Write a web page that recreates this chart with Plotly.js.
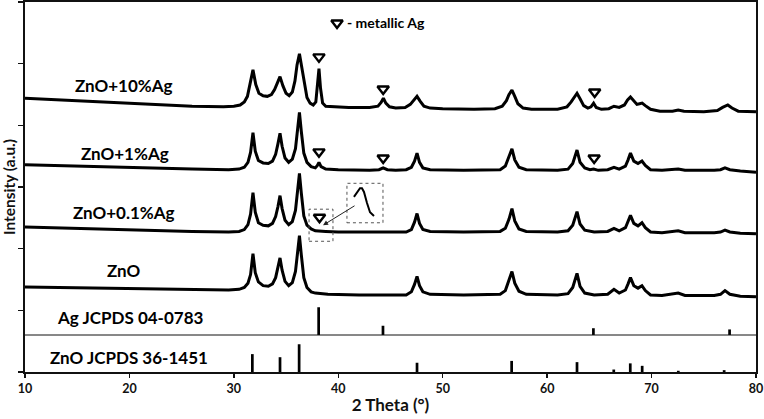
<!DOCTYPE html>
<html>
<head>
<meta charset="utf-8">
<script src="https://cdn.plot.ly/plotly-3.0.1.min.js"></script>
<style>html,body{margin:0;padding:0;background:#fff;}#chart{width:764px;height:419px;}</style>
</head>
<body>
<div id="chart"></div>
<script>
// ---- Sample patterns (2θ in degrees, intensity in stacked a.u.) ----
const theta10Ag = [10,14,18,22,26,29,30,30.6,31.0,31.3,31.55,31.83,32.1,32.4,32.8,33.2,33.6,33.9,34.15,34.42,34.7,35.0,35.3,35.6,35.85,36.05,36.28,36.5,36.75,37.0,37.3,37.6,37.85,38.0,38.15,38.3,38.5,38.8,39.5,41,43,43.8,44.1,44.32,44.55,44.9,45.5,46.4,46.9,47.2,47.54,47.85,48.2,48.8,50,53,55,55.7,56.1,56.35,56.63,56.9,57.2,57.7,58.5,61,61.9,62.3,62.6,62.86,63.15,63.5,63.9,64.2,64.45,64.7,65.2,65.9,66.4,66.9,67.4,67.7,67.98,68.3,68.6,68.85,69.1,69.4,69.9,70.8,72.0,72.55,73.1,75,76.3,76.8,77.3,77.7,78.3,80];
const int10Ag   = [4.44,4.41,4.37,4.34,4.31,4.30,4.31,4.33,4.38,4.47,4.65,4.90,4.66,4.52,4.48,4.47,4.50,4.58,4.68,4.79,4.64,4.52,4.48,4.54,4.72,4.98,5.16,4.95,4.65,4.45,4.36,4.33,4.38,4.62,4.92,4.60,4.36,4.31,4.30,4.29,4.29,4.31,4.37,4.44,4.36,4.30,4.28,4.29,4.34,4.41,4.47,4.39,4.31,4.28,4.27,4.26,4.27,4.31,4.40,4.50,4.57,4.47,4.35,4.28,4.26,4.26,4.30,4.38,4.46,4.52,4.43,4.32,4.28,4.30,4.36,4.29,4.26,4.27,4.31,4.29,4.33,4.41,4.46,4.39,4.34,4.35,4.36,4.32,4.26,4.23,4.23,4.25,4.23,4.22,4.24,4.29,4.33,4.28,4.23,4.22];

const theta1Ag = [10,14,18,22,26,29.5,30.5,31.0,31.35,31.6,31.83,32.05,32.35,32.8,33.3,33.7,34.0,34.22,34.42,34.62,34.9,35.25,35.6,35.9,36.1,36.28,36.46,36.7,37.0,37.4,37.8,38.0,38.15,38.35,38.8,40,43,43.9,44.3,44.7,45.5,46.5,47.0,47.3,47.54,47.78,48.1,48.8,52,55.5,56.0,56.35,56.63,56.9,57.3,58,61,62.0,62.45,62.86,63.15,63.6,64.1,64.45,64.9,65.8,66.4,66.9,67.5,67.75,67.98,68.3,68.7,69.08,69.4,69.9,71,72.55,73.2,76,76.6,77.03,77.5,78.5,80];
const int1Ag   = [3.36,3.34,3.32,3.30,3.29,3.28,3.29,3.32,3.40,3.56,3.88,3.58,3.43,3.39,3.38,3.42,3.53,3.70,3.87,3.66,3.47,3.40,3.45,3.62,3.92,4.21,3.90,3.55,3.40,3.33,3.31,3.35,3.40,3.33,3.29,3.28,3.27,3.28,3.31,3.28,3.27,3.28,3.32,3.42,3.55,3.40,3.31,3.28,3.27,3.28,3.34,3.48,3.62,3.44,3.32,3.28,3.27,3.29,3.38,3.60,3.40,3.31,3.28,3.29,3.27,3.28,3.32,3.29,3.34,3.44,3.55,3.42,3.38,3.42,3.35,3.28,3.27,3.29,3.27,3.27,3.28,3.31,3.28,3.26,3.24];

const theta01Ag = [10,14,18,22,26,29.5,30.5,31.0,31.35,31.6,31.83,32.05,32.35,32.8,33.3,33.7,34.0,34.22,34.42,34.62,34.9,35.25,35.6,35.9,36.1,36.28,36.46,36.7,37.0,37.4,37.8,38.15,38.8,40,44,46.5,47.0,47.3,47.54,47.78,48.1,48.8,52,55.5,56.0,56.35,56.63,56.9,57.3,58,61,62.0,62.45,62.86,63.15,63.6,64.5,65.8,66.4,66.9,67.5,67.75,67.98,68.3,68.7,69.08,69.4,69.9,71,72.55,73.2,76,76.6,77.03,77.5,78.5,80];
const int01Ag   = [2.35,2.33,2.31,2.29,2.28,2.27,2.28,2.31,2.39,2.56,2.91,2.59,2.42,2.38,2.37,2.41,2.52,2.68,2.86,2.65,2.46,2.39,2.44,2.62,2.93,3.22,2.90,2.53,2.38,2.32,2.29,2.29,2.28,2.27,2.27,2.27,2.31,2.43,2.57,2.41,2.31,2.28,2.27,2.28,2.33,2.48,2.65,2.45,2.32,2.28,2.27,2.29,2.38,2.60,2.40,2.30,2.27,2.28,2.33,2.29,2.34,2.44,2.54,2.41,2.37,2.42,2.34,2.27,2.26,2.29,2.26,2.26,2.27,2.30,2.27,2.25,2.24];

const thetaZnO = [10,14,18,22,26,29.5,30.5,31.0,31.35,31.6,31.83,32.05,32.35,32.8,33.3,33.7,34.0,34.22,34.42,34.62,34.9,35.25,35.6,35.9,36.1,36.28,36.46,36.7,37.0,37.4,37.8,39,42,46.5,47.0,47.3,47.54,47.78,48.1,48.8,52,55.5,56.0,56.35,56.63,56.9,57.3,58,61,62.0,62.45,62.86,63.15,63.6,64.5,65.8,66.4,66.9,67.5,67.75,67.98,68.3,68.7,69.08,69.4,69.9,71,72.55,73.2,76,76.6,77.03,77.5,78.5,80];
const intZnO   = [1.38,1.37,1.36,1.35,1.34,1.33,1.34,1.37,1.44,1.58,1.92,1.61,1.46,1.40,1.39,1.43,1.53,1.68,1.85,1.65,1.47,1.40,1.45,1.63,1.93,2.21,1.90,1.53,1.37,1.30,1.28,1.26,1.25,1.25,1.30,1.42,1.55,1.40,1.30,1.26,1.25,1.26,1.32,1.48,1.63,1.44,1.31,1.26,1.25,1.27,1.37,1.60,1.39,1.28,1.25,1.26,1.34,1.28,1.33,1.43,1.53,1.40,1.36,1.40,1.32,1.25,1.24,1.28,1.24,1.24,1.26,1.32,1.26,1.23,1.22];

// ---- Reference cards ----
const agRefTheta  = [38.12, 44.28, 64.43, 77.47];
const agRefHeight = [0.45, 0.15, 0.11, 0.09];
const agRefBase   = 0.6;
const znoRefTheta  = [31.77, 34.42, 36.25, 47.54, 56.60, 62.86, 66.38, 67.96, 69.10, 72.56, 76.95];
const znoRefHeight = [0.29, 0.24, 0.45, 0.15, 0.18, 0.16, 0.04, 0.14, 0.10, 0.02, 0.03];

// ---- Metallic Ag markers ----
const agMarkTheta = [38.15, 44.3, 64.55, 38.15, 44.3, 64.5, 38.2];
const agMarkInt   = [5.11, 4.59, 4.54, 3.57, 3.47, 3.47, 2.51];
const legendMark  = {theta: [39.88], int: [5.66]};

// ---- Inset (magnified Ag peak of ZnO+0.1%Ag) ----
const insetTheta = [41.50, 41.79, 42.08, 42.27, 42.46, 42.75, 43.04, 43.42];
const insetInt   = [2.84, 2.92, 2.98, 2.98, 2.92, 2.74, 2.59, 2.53];

// ---- Labels ----
const sampleLabels = ['ZnO+10%Ag', 'ZnO+1%Ag', 'ZnO+0.1%Ag', 'ZnO', 'Ag JCPDS 04-0783', 'ZnO JCPDS 36-1451'];

const lineStyle = {color: '#000', width: 3};
const markerStyle = {symbol: 'triangle-down-open', size: 10, color: '#000', line: {width: 2.4, color: '#000'}};
const traces = [
  {x: theta10Ag, y: int10Ag, type: 'scatter', mode: 'lines', line: lineStyle, name: sampleLabels[0]},
  {x: theta1Ag,  y: int1Ag,  type: 'scatter', mode: 'lines', line: lineStyle, name: sampleLabels[1]},
  {x: theta01Ag, y: int01Ag, type: 'scatter', mode: 'lines', line: lineStyle, name: sampleLabels[2]},
  {x: thetaZnO,  y: intZnO,  type: 'scatter', mode: 'lines', line: lineStyle, name: sampleLabels[3]},
  {x: agRefTheta, y: agRefHeight, base: agRefBase, type: 'bar', width: 0.26, marker: {color: '#000'}, name: sampleLabels[4]},
  {x: znoRefTheta, y: znoRefHeight, base: 0, type: 'bar', width: 0.26, marker: {color: '#000'}, name: sampleLabels[5]},
  {x: agMarkTheta, y: agMarkInt, type: 'scatter', mode: 'markers', name: 'metallic Ag', marker: markerStyle},
  {x: legendMark.theta, y: legendMark.int, type: 'scatter', mode: 'markers', name: 'legend', marker: markerStyle},
  {x: insetTheta, y: insetInt, type: 'scatter', mode: 'lines', line: {color: '#000', width: 2}, name: 'inset'}
];

const labelPos = [[19.48, 4.65], [19.58, 3.55], [19.48, 2.58], [19.48, 1.64], [20.15, 0.89], [19.96, 0.24]];
const annotations = sampleLabels.map((t, i) => ({
  x: labelPos[i][0], y: labelPos[i][1], xref: 'x', yref: 'y', text: t, showarrow: false,
  font: {size: 17, weight: 700, color: '#000', family: 'Lato, sans-serif'}
}));
annotations.push({x: 40.6, y: 5.66, xref: 'x', yref: 'y', text: '- metallic Ag', showarrow: false, xanchor: 'left',
  font: {size: 14, weight: 700, color: '#000', family: 'Lato, sans-serif'}});
annotations.push({x: 38.54, y: 2.38, ax: 41.7, ay: 2.71, xref: 'x', yref: 'y', axref: 'x', ayref: 'y',
  text: '', showarrow: true, arrowhead: 2, arrowsize: 1, arrowwidth: 1, arrowcolor: '#222'});

const layout = {
  width: 764, height: 419,
  margin: {l: 25, r: 8, t: 2, b: 47},
  paper_bgcolor: '#fff', plot_bgcolor: '#fff',
  showlegend: false, barmode: 'overlay',
  font: {family: 'Lato, sans-serif', color: '#111'},
  xaxis: {
    range: [10, 80], tickvals: [10, 20, 30, 40, 50, 60, 70, 80],
    ticks: 'outside', ticklen: 4, tickwidth: 1.5, tickcolor: '#111',
    showline: true, linewidth: 2, linecolor: '#111', mirror: true,
    showgrid: false, zeroline: false,
    tickfont: {size: 12.5, weight: 700, color: '#111'},
    title: {text: '2 Theta (°)', font: {size: 17, weight: 700, color: '#111'}, standoff: 4}
  },
  yaxis: {
    range: [0, 6], tickvals: [0, 1, 2, 3, 4, 5, 6], showticklabels: false,
    ticks: 'outside', ticklen: 5, tickwidth: 1.5, tickcolor: '#111',
    showline: true, linewidth: 2, linecolor: '#111', mirror: true,
    showgrid: false, zeroline: false, automargin: false,
    title: {text: 'Intensity (a.u.)', font: {size: 15.5, weight: 700, color: '#111'}, standoff: 2}
  },
  shapes: [
    {type: 'line', xref: 'paper', x0: 0, x1: 1, yref: 'y', y0: agRefBase, y1: agRefBase, line: {color: '#111', width: 1}},
    {type: 'rect', xref: 'x', yref: 'y', x0: 37.2, x1: 39.49, y0: 2.12, y1: 2.64, line: {color: '#555', width: 1, dash: 'dot'}},
    {type: 'rect', xref: 'x', yref: 'y', x0: 40.83, x1: 44.28, y0: 2.42, y1: 3.06, line: {color: '#555', width: 1, dash: 'dot'}}
  ],
  annotations: annotations
};

Plotly.newPlot('chart', traces, layout, {displayModeBar: false, staticPlot: true});
</script>
</body>
</html>
